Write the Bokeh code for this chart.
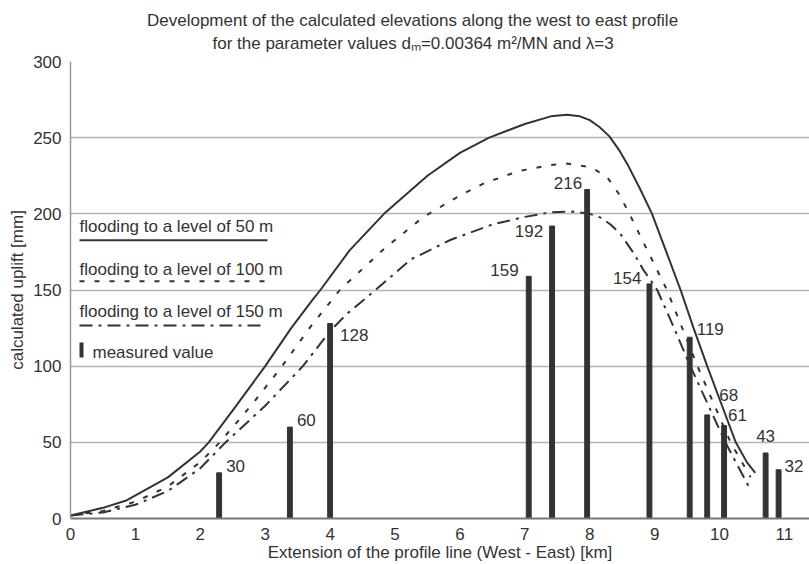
from bokeh.plotting import figure
from bokeh.models import Range1d, Label, Arrow, BoxAnnotation, FixedTicker, ColumnDataSource, Title
from bokeh.embed import file_html
from bokeh.resources import INLINE
from bokeh.core.properties import value

# ---------------- data ----------------
title_line1 = "Development of the calculated elevations along the west to east profile"
title_line2 = "for the parameter values d\u2098=0.00364 m\u00b2/MN and \u03bb=3"
x_title = "Extension of the profile line (West - East) [km]"
y_title = "calculated uplift [mm]"

x_ticks = [0, 1, 2, 3, 4, 5, 6, 7, 8, 9, 10, 11]
y_ticks = [0, 50, 100, 150, 200, 250, 300]

legend_labels = ["flooding to a level of 50 m", "flooding to a level of 100 m",
                 "flooding to a level of 150 m", "measured value"]

flood50_x = [0, 0.5, 0.87, 1.5, 2.0, 2.13, 2.5, 3.0, 3.4, 3.72, 3.85, 4.3, 4.83, 5.5, 6.0,
             6.45, 7.0, 7.4, 7.65, 7.85, 8.0, 8.15, 8.3, 8.45, 8.6, 8.78, 8.96, 9.18, 9.4,
             9.6, 9.81, 10.03, 10.25, 10.42, 10.55]
flood50_y = [2, 7, 12, 27, 44, 50, 71, 100, 125, 143, 150, 176, 200, 225, 240,
             250, 259, 264, 265, 264, 261.5, 257, 251, 242, 231, 216, 200, 175, 150,
             125, 100, 75, 50, 37, 30]

flood100_x = [0, 0.5, 1.0, 1.5, 2.0, 2.3, 2.8, 3.26, 3.7, 4.15, 4.83, 5.44, 6.0, 6.37, 6.9,
              7.4, 7.65, 7.95, 8.1, 8.27, 8.45, 8.6, 8.9, 9.19, 9.66, 10.17, 10.48]
flood100_y = [2, 5, 11, 21, 37, 50, 75, 100, 126, 150, 177, 198, 212, 220, 228,
              232, 233, 231, 228.5, 224, 213, 201, 175, 150, 100, 50, 27]

flood150_x = [0, 0.5, 1.0, 1.5, 2.0, 2.39, 3.0, 3.58, 3.8, 4.0, 4.25, 4.7, 5.24, 5.86, 6.5,
              7.0, 7.4, 7.75, 8.0, 8.17, 8.32, 8.47, 8.68, 8.83, 9.04, 9.3, 9.55, 10.09, 10.45]
flood150_y = [2, 4, 9, 18, 33, 50, 74, 100, 112, 123, 134, 150, 170, 183, 193,
              198, 201, 201.5, 200, 197.5, 193, 187, 174, 163, 150, 125, 100, 50, 21]

measured_x = [2.29, 3.38, 4.0, 7.06, 7.42, 7.96, 8.92, 9.54, 9.81, 10.07, 10.71, 10.91]
measured_v = [30, 60, 128, 159, 192, 216, 154, 119, 68, 61, 43, 32]

# ---------------- styles ----------------
FONT = "Liberation Sans"
INK = "#333333"
FS = "17px"
label_align = ["left", "left", "left", "right", "right", "right", "right", "left", "left", "left", "center", "left"]
label_dx = [7, 7, 10, -10, -9, -5, -8, 7, 12, 4, 0, 6]
label_dy = [-7, -7, 11, -6, 5, -6, -6, -8, -20, -11, -17, -4]

p = figure(width=809, height=564, output_backend="svg", toolbar_location=None,
           x_range=Range1d(0, 11.386), y_range=Range1d(0, 300),
           min_border_left=70, min_border_right=0, min_border_top=61, min_border_bottom=45)
p.outline_line_color = None
p.background_fill_color = "white"
p.border_fill_color = "white"
p.xgrid.visible = False
p.ygrid.grid_line_color = "#b4b4b4"
p.ygrid.grid_line_width = 1.5
p.xaxis.ticker = FixedTicker(ticks=x_ticks)
p.yaxis.ticker = FixedTicker(ticks=y_ticks)

for ax in (p.xaxis[0], p.yaxis[0]):
    ax.major_tick_line_color = None
    ax.minor_tick_line_color = None
    ax.major_tick_out = 0
    ax.major_tick_in = 0
    ax.major_label_text_font = FONT
    ax.major_label_text_font_size = FS
    ax.major_label_text_color = INK
    ax.axis_label_text_font = FONT
    ax.axis_label_text_font_size = FS
    ax.axis_label_text_color = INK
    ax.axis_label_text_font_style = "normal"
    ax.axis_label_standoff = 0

p.xaxis.axis_label = x_title
p.yaxis.axis_label = y_title
p.yaxis.axis_line_color = "#9a9a9a"
p.yaxis.axis_line_width = 1.5
p.xaxis.axis_line_color = "#777777"
p.xaxis.axis_line_width = 2
p.yaxis.major_label_standoff = 9
p.xaxis.major_label_standoff = 9
p.yaxis.axis_label_standoff = 3

# measured bars
p.vbar(x=measured_x, top=measured_v, width=0.075, color=INK)

# curves
p.line(flood50_x, flood50_y, line_color=INK, line_width=2)
p.line(flood100_x, flood100_y, line_color=INK, line_width=2, line_dash="5 10")
p.line(flood150_x, flood150_y, line_color=INK, line_width=2, line_dash="13 6 3 6")

# bar value labels
for al in ("left", "right", "center"):
    idx = [i for i, a in enumerate(label_align) if a == al]
    src = ColumnDataSource(dict(
        x=[measured_x[i] for i in idx],
        y=[measured_v[i] for i in idx],
        t=[str(measured_v[i]) for i in idx],
        dx=[label_dx[i] for i in idx],
        dy=[label_dy[i] for i in idx],
    ))
    p.text(x="x", y="y", text="t", x_offset="dx", y_offset="dy", source=src,
           text_align=al, text_baseline="middle", text_font=value(FONT),
           text_font_size=FS, text_color=INK)

# two-line title
p.add_layout(Title(text=title_line2, align="left", offset=142, standoff=18,
                   vertical_align="bottom", text_font=FONT, text_font_size=FS,
                   text_color=INK, text_font_style="normal"), "above")
p.add_layout(Title(text=title_line1, align="left", offset=76.5, standoff=-15,
                   vertical_align="bottom", text_font=FONT, text_font_size=FS,
                   text_color=INK, text_font_style="normal"), "above")

# legend
leg_text_y = [292, 249, 207.3, 166.3]
leg_text_x = [9, 9, 9, 22]
for txt, xx, yy in zip(legend_labels, leg_text_x, leg_text_y):
    p.add_layout(Label(x=xx, y=yy, x_units="screen", y_units="screen", text=txt,
                       text_align="left", text_baseline="middle", text_font=FONT,
                       text_font_size=FS, text_color=INK))
for (x0, x1, yy, dash) in ((9, 197, 278.3, "solid"), (9, 198, 237.3, "5 10"), (9, 194, 193, "13 6 3 6")):
    p.add_layout(Arrow(end=None, x_start=x0, y_start=yy, x_end=x1, y_end=yy,
                       start_units="screen", end_units="screen",
                       line_color=INK, line_width=2, line_dash=dash))
p.add_layout(BoxAnnotation(left=9, right=13, bottom=161, top=176,
                           left_units="screen", right_units="screen",
                           bottom_units="screen", top_units="screen",
                           fill_color=INK, fill_alpha=1, line_color=None))

open("out.html", "w").write(file_html(p, INLINE))
